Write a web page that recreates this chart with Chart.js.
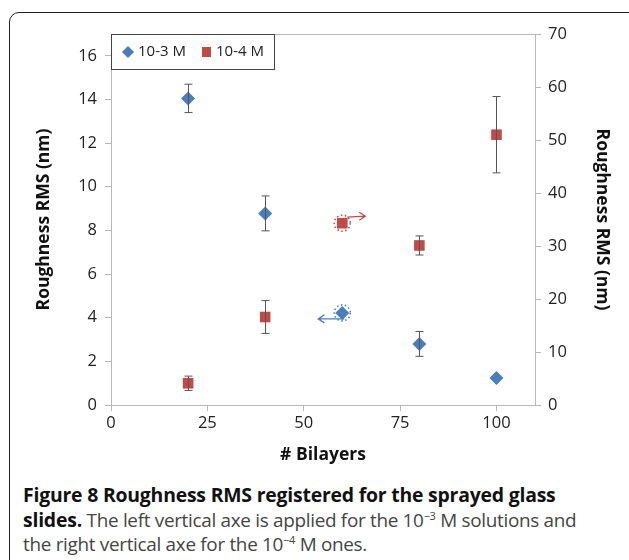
<!DOCTYPE html>
<html>
<head>
<meta charset="utf-8">
<script src="https://cdn.jsdelivr.net/npm/chart.js@4.4.1/dist/chart.umd.min.js"></script>
<style>
  body { margin: 0; background: #fff; width: 629px; height: 560px; overflow: hidden; position: relative; font-family: "Open Sans", sans-serif; }
  #frame { position: absolute; left: 9px; top: 12px; width: 650px; height: 620px; border: 1.5px solid #222; border-radius: 10px; }
  #wrap { position: absolute; left: 0; top: 0; width: 629px; height: 470px; }
  #caption { position: absolute; left: 23px; top: 483px; width: 620px; font-size: 18.9px; line-height: 24.5px; color: #444; white-space: nowrap; letter-spacing: -0.3px; }
  #caption b { color: #111; font-size: 19.4px; letter-spacing: -0.2px; }
  #caption sup { font-size: 11px; line-height: 0; }
</style>
</head>
<body>
<div id="frame"></div>
<div id="wrap"><canvas id="chart" width="629" height="470"></canvas></div>
<div id="caption"><b>Figure 8 Roughness RMS registered for the sprayed glass<br>slides.</b> The left vertical axe is applied for the 10<sup>&minus;3</sup> M solutions and<br>the right vertical axe for the 10<sup>&minus;4</sup> M ones.</div>
<script>
// Data
const bilayers = [20, 40, 60, 80, 100];
const rms3 = [14.05, 8.78, 4.22, 2.8, 1.24];      // 10-3 M, left axis (nm)
const err3 = [0.65, 0.8, 0, 0.57, 0];
const rms4 = [4.1, 16.6, 34.3, 30.1, 51.0];       // 10-4 M, right axis (nm)
const err4 = [1.35, 3.1, 0, 1.8, 7.2];
const seriesNames = ['10-3 M', '10-4 M'];
const xTicks = [0, 25, 50, 75, 100];
const leftTicks = [0, 2, 4, 6, 8, 10, 12, 14, 16];
const rightTicks = [0, 10, 20, 30, 40, 50, 60, 70];
const highlightX = 60;

const BLUE = '#4a7ebb';
const RED = '#be4b48';
const AXIS = '#b8b8b8';
const FONT = '"Open Sans", sans-serif';

function keepTicks(list) {
    return function(axis) {
        axis.ticks = list.map(v => ({ value: v }));
    };
}

// Error bars, plot frame, legend and the little markers at x=60
const extras = {
    id: 'extras',
    afterDatasetsDraw(chart) {
        const ctx = chart.ctx;
        const xs = chart.scales.x;
        const area = chart.chartArea;
        ctx.save();

        // error bars
        ctx.strokeStyle = '#555';
        ctx.lineWidth = 1;
        [[rms3, err3, 'y'], [rms4, err4, 'y2']].forEach(([vals, errs, sid]) => {
            const ys = chart.scales[sid];
            vals.forEach((v, i) => {
                if (!errs[i]) return;
                const px = Math.round(xs.getPixelForValue(bilayers[i])) + 0.5;
                const top = ys.getPixelForValue(v + errs[i]);
                const bot = ys.getPixelForValue(v - errs[i]);
                ctx.beginPath();
                ctx.moveTo(px, top); ctx.lineTo(px, bot);
                ctx.moveTo(px - 4, top); ctx.lineTo(px + 4, top);
                ctx.moveTo(px - 4, bot); ctx.lineTo(px + 4, bot);
                ctx.stroke();
            });
        });

        // top border of the plot area
        ctx.strokeStyle = AXIS;
        ctx.beginPath();
        ctx.moveTo(area.left, area.top + 0.5);
        ctx.lineTo(area.right, area.top + 0.5);
        ctx.stroke();

        // dotted circles + arrows on the 60 bilayer points
        const i = bilayers.indexOf(highlightX);
        const hx = xs.getPixelForValue(highlightX);
        const ry = chart.scales.y2.getPixelForValue(rms4[i]);
        const by = chart.scales.y.getPixelForValue(rms3[i]);

        ctx.lineWidth = 1.6;
        ctx.setLineDash([1.5, 2.5]);
        ctx.strokeStyle = RED;
        ctx.beginPath(); ctx.arc(hx, ry, 8, 0, Math.PI * 2); ctx.stroke();
        ctx.strokeStyle = BLUE;
        ctx.beginPath(); ctx.arc(hx, by, 8, 0, Math.PI * 2); ctx.stroke();
        ctx.setLineDash([]);

        ctx.lineWidth = 1.3;
        ctx.strokeStyle = RED;
        ctx.beginPath();
        ctx.moveTo(hx + 5, ry - 6);
        ctx.lineTo(hx + 23, ry - 7);
        ctx.moveTo(hx + 17, ry - 11);
        ctx.lineTo(hx + 23, ry - 7);
        ctx.lineTo(hx + 17, ry - 3);
        ctx.stroke();

        ctx.strokeStyle = BLUE;
        ctx.beginPath();
        ctx.moveTo(hx + 2, by + 6);
        ctx.lineTo(hx - 24, by + 6);
        ctx.moveTo(hx - 18, by + 2);
        ctx.lineTo(hx - 24, by + 6);
        ctx.lineTo(hx - 18, by + 10);
        ctx.stroke();

        // legend box in the top-left corner
        const lx = area.left, ly = area.top, lw = 163, lh = 35;
        ctx.fillStyle = '#fff';
        ctx.fillRect(lx, ly, lw, lh);
        ctx.strokeStyle = '#444';
        ctx.lineWidth = 1;
        ctx.strokeRect(lx + 0.5, ly + 0.5, lw, lh);

        const cy = ly + 18;
        ctx.fillStyle = BLUE;
        ctx.beginPath();
        ctx.moveTo(lx + 17, cy - 6); ctx.lineTo(lx + 23, cy);
        ctx.lineTo(lx + 17, cy + 6); ctx.lineTo(lx + 11, cy);
        ctx.closePath(); ctx.fill();
        ctx.fillStyle = RED;
        ctx.fillRect(lx + 91, cy - 5, 9, 10);

        ctx.fillStyle = '#222';
        ctx.font = '15px ' + FONT;
        ctx.textBaseline = 'middle';
        ctx.fillText(seriesNames[0], lx + 27, cy);
        ctx.fillText(seriesNames[1], lx + 105, cy);
        ctx.restore();
    }
};

const tickFont = { family: FONT, size: 16.5 };
const titleFont = { family: FONT, size: 17.5, weight: 'bold' };

new Chart(document.getElementById('chart'), {
    type: 'scatter',
    data: {
        datasets: [
            {
                label: seriesNames[0],
                data: bilayers.map((x, i) => ({ x: x, y: rms3[i] })),
                yAxisID: 'y',
                pointStyle: 'rectRot',
                pointRadius: 7,
                backgroundColor: BLUE,
                borderColor: BLUE,
                borderWidth: 0
            },
            {
                label: seriesNames[1],
                data: bilayers.map((x, i) => ({ x: x, y: rms4[i] })),
                yAxisID: 'y2',
                pointStyle: 'rect',
                pointRadius: 7.5,
                backgroundColor: RED,
                borderColor: RED,
                borderWidth: 0
            }
        ]
    },
    options: {
        responsive: false,
        animation: false,
        layout: { padding: { top: 34, left: 0, right: 0, bottom: 0 } },
        plugins: {
            legend: { display: false },
            tooltip: { enabled: false }
        },
        scales: {
            x: {
                type: 'linear',
                min: 0,
                max: 110,
                afterBuildTicks: keepTicks(xTicks),
                afterFit(scale) { scale.height = 65; },
                grid: { drawOnChartArea: false, color: AXIS, tickLength: 6 },
                border: { color: AXIS },
                ticks: { font: tickFont, color: '#222', padding: 2 },
                title: { display: true, text: '# Bilayers', font: titleFont, color: '#111', padding: { top: 0 } }
            },
            y: {
                position: 'left',
                min: 0,
                max: 17,
                afterBuildTicks: keepTicks(leftTicks),
                afterFit(scale) { scale.width = 111; },
                grid: { drawOnChartArea: false, color: AXIS, tickLength: 6 },
                border: { color: AXIS },
                ticks: { font: tickFont, color: '#222', padding: 8 },
                title: { display: true, text: 'Roughness RMS (nm)', font: titleFont, color: '#111', padding: { top: 34 } }
            },
            y2: {
                position: 'right',
                min: 0,
                max: 70,
                afterBuildTicks: keepTicks(rightTicks),
                afterFit(scale) { scale.width = 94; },
                grid: { drawOnChartArea: false, color: AXIS, tickLength: 6 },
                border: { color: AXIS },
                ticks: { font: tickFont, color: '#222', padding: 7 },
                title: { display: true, text: 'Roughness RMS (nm)', font: titleFont, color: '#111', padding: { top: 17 } }
            }
        }
    },
    plugins: [extras]
});
</script>
</body>
</html>
